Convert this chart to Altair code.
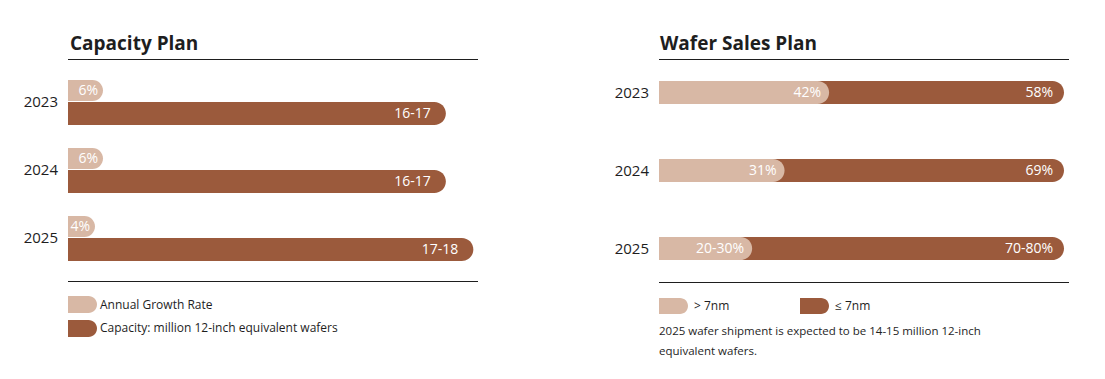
import altair as alt
import pandas as pd

# ---- data ----
years = ["2023", "2024", "2025"]
growth = [6, 6, 4]
growth_labels = ["6%", "6%", "4%"]
capacity = [16.5, 16.5, 17.7]
capacity_labels = ["16-17", "16-17", "17-18"]

gt7 = [42, 31, 23]
le7 = [58, 69, 77]
gt7_labels = ["42%", "31%", "20-30%"]
le7_labels = ["58%", "69%", "70-80%"]

LIGHT = "#D8B8A5"
DARK = "#9B5A3C"
INK = "#1E1E1E"
FONT = "Open Sans"

left_df = pd.DataFrame({"Year": years, "Growth": growth, "GrowthLabel": growth_labels,
                        "Capacity": capacity, "CapLabel": capacity_labels})
right_df = pd.DataFrame({"Year": years, "Gt7": gt7, "Le7": le7,
                         "GtLabel": gt7_labels, "LeLabel": le7_labels})

blank = alt.InlineData(values=[{}])

# ---- left panel: Capacity Plan ----
yL = alt.Y("Year:O", scale=alt.Scale(type="point", range=[94, 230], padding=0), axis=None)
gx = alt.X("Growth:Q", stack=None,
           scale=alt.Scale(domain=[0, 10], range=[71, 111], nice=False, zero=False), axis=None)
cx = alt.X("Capacity:Q", stack=None,
           scale=alt.Scale(domain=[0, 18], range=[60, 60 + 18 * 22.9], nice=False), axis=None)

growth_layer = alt.layer(
    alt.Chart(left_df).mark_bar(color=LIGHT, size=21, yOffset=-11.5,
                                cornerRadiusTopRight=10.5, cornerRadiusBottomRight=10.5)
    .encode(x=gx, x2=alt.value(60), y=yL),
    alt.Chart(left_df).mark_text(align="right", baseline="middle", dx=-5, dy=-11.5,
                                 color="white", fontSize=14, font=FONT)
    .encode(x=gx, y=yL, text="GrowthLabel:N"),
    alt.Chart(left_df).mark_text(align="right", baseline="middle", color=INK, fontSize=15, font=FONT)
    .encode(x=alt.value(50), y=yL, text="Year:N"),
)

cap_layer = alt.layer(
    alt.Chart(left_df).mark_bar(color=DARK, size=23, yOffset=11.5,
                                cornerRadiusTopRight=11.5, cornerRadiusBottomRight=11.5)
    .encode(x=cx, y=yL),
    alt.Chart(left_df).mark_text(align="right", baseline="middle", dx=-15, dy=11.5,
                                 color="white", fontSize=14, font=FONT)
    .encode(x=cx, y=yL, text="CapLabel:N"),
)

# ---- right panel: Wafer Sales Plan ----
yR = alt.Y("Year:O", scale=alt.Scale(type="point", range=[84.5, 240.5], padding=0), axis=None)
xR_scale = alt.Scale(domain=[0, 100], range=[651, 1056], nice=False)

rbase = alt.Chart(right_df).transform_calculate(Total="datum.Gt7 + datum.Le7")
right_layer = alt.layer(
    rbase.mark_bar(color=DARK, size=23, cornerRadiusTopRight=11.5, cornerRadiusBottomRight=11.5)
    .encode(x=alt.X("Total:Q", stack=None, scale=xR_scale, axis=None), y=yR),
    rbase.mark_bar(color=LIGHT, size=23, cornerRadiusTopRight=11.5, cornerRadiusBottomRight=11.5)
    .encode(x=alt.X("Gt7:Q", stack=None, scale=xR_scale, axis=None), y=yR),
    rbase.mark_text(align="right", baseline="middle", dx=-8, color="white", fontSize=14, font=FONT)
    .encode(x=alt.X("Gt7:Q", scale=xR_scale, axis=None), y=yR, text="GtLabel:N"),
    rbase.mark_text(align="right", baseline="middle", dx=-11, color="white", fontSize=14, font=FONT)
    .encode(x=alt.X("Total:Q", scale=xR_scale, axis=None), y=yR, text="LeLabel:N"),
    rbase.mark_text(align="right", baseline="middle", color=INK, fontSize=15, font=FONT)
    .encode(x=alt.value(641), y=yR, text="Year:N"),
)


# ---- decorations ----
def label(txt, x, y, size=12, bold=False, baseline="middle"):
    return alt.Chart(blank).mark_text(align="left", baseline=baseline, color=INK, fontSize=size,
                                      font=FONT, fontWeight="bold" if bold else "normal").encode(
        x=alt.value(x), y=alt.value(y), text=alt.value(txt))


def rule(x1, x2, y):
    return alt.Chart(blank).mark_rule(color=INK, strokeWidth=1).encode(
        x=alt.value(x1), x2=alt.value(x2), y=alt.value(y))


def swatch(x1, x2, y1, y2, color):
    return alt.Chart(blank).mark_rect(color=color, cornerRadiusTopRight=8.5,
                                      cornerRadiusBottomRight=8.5).encode(
        x=alt.value(x1), x2=alt.value(x2), y=alt.value(y1), y2=alt.value(y2))


decor = alt.layer(
    label("Capacity Plan", 62, 41.5, size=19, bold=True, baseline="alphabetic"),
    label("Wafer Sales Plan", 652, 41.5, size=19, bold=True, baseline="alphabetic"),
    rule(60, 470, 51.5), rule(60, 470, 273.5),
    rule(651, 1061, 51.5), rule(651, 1061, 274.5),
    swatch(60, 89, 288, 305, LIGHT), swatch(60, 89, 312, 329, DARK),
    label("Annual Growth Rate", 92, 297),
    label("Capacity: million 12-inch equivalent wafers", 92, 320),
    swatch(651, 680, 290, 306, LIGHT), swatch(792, 821, 290, 306, DARK),
    label("> 7nm", 686, 298), label("≤ 7nm", 827, 298),
    label("2025 wafer shipment is expected to be 14-15 million 12-inch", 651, 324, size=11.5),
    label("equivalent wafers.", 651, 344, size=11.5),
)

chart = alt.layer(growth_layer, cap_layer, right_layer, decor).resolve_scale(
    x="independent", y="independent"
).properties(
    width=1089, height=363, autosize=alt.AutoSizeParams(type="none"), padding=0,
    background="white"
).configure_view(stroke=None)

chart.save("out.html", embed_options={"renderer": "svg", "actions": False})
